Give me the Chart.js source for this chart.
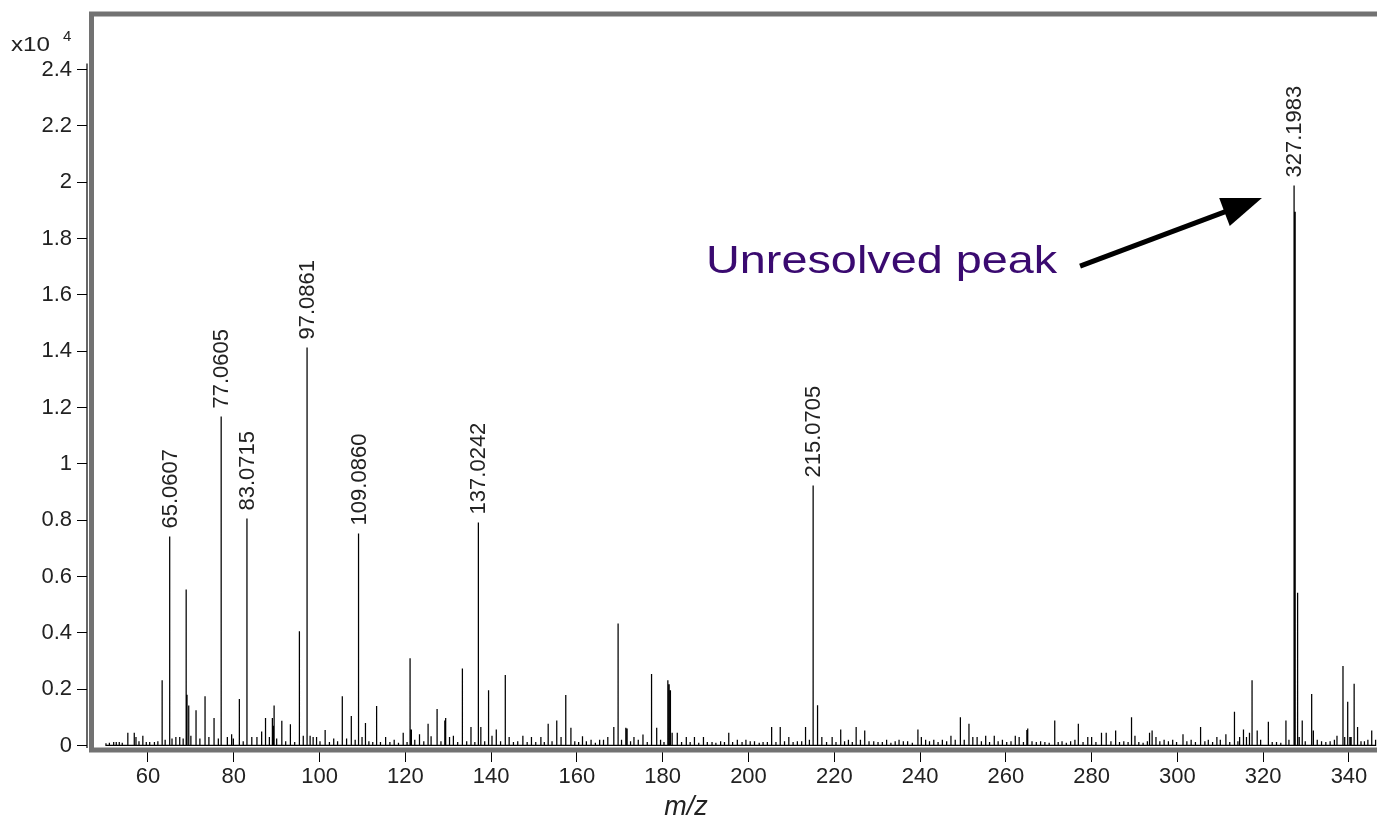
<!DOCTYPE html>
<html>
<head>
<meta charset="utf-8">
<script src="https://cdn.jsdelivr.net/npm/chart.js@4.4.1/dist/chart.umd.min.js"></script>
<style>
  html, body { margin: 0; padding: 0; background: #fff; }
  #wrap { width: 1377px; height: 820px; position: relative; }
</style>
</head>
<body>
<div id="wrap"><canvas id="spectrum"></canvas></div>
<script>
// Labelled peaks (m/z, intensity x10^4)
const labelMz = [65.0607, 77.0605, 83.0715, 97.0861, 109.0860, 137.0242, 215.0705, 327.1983];
const labelInt = [0.742, 1.168, 0.806, 1.413, 0.753, 0.792, 0.923, 1.988];

// Other peaks
const otherMz = [
  50.2, 51.0, 52.0, 52.6, 53.3, 54.0, 55.3, 56.8, 57.2, 57.9,
  58.8, 59.6, 60.4, 61.5, 62.3, 63.3, 64.0, 65.6, 66.5, 67.4,
  68.2, 68.9, 69.1, 69.5, 70.0, 71.2, 72.1, 73.3, 74.2, 75.4,
  76.4, 78.5, 79.5, 79.9, 81.3, 82.2, 84.2, 85.4, 86.5, 87.4,
  88.3, 89.0, 89.2, 89.4, 90.0, 91.2, 92.1, 93.2, 94.2, 95.3,
  96.2, 97.8, 98.5, 99.3, 100.1, 101.3, 102.3, 103.3, 104.2, 105.3,
  106.3, 107.4, 108.3, 109.9, 110.7, 111.5, 112.4, 113.3, 114.2, 115.4,
  116.4, 117.4, 118.4, 119.5, 120.4, 121.1, 121.4, 122.2, 123.3, 124.3,
  125.3, 126.0, 127.4, 128.3, 129.2, 129.4, 130.3, 131.2, 132.2, 133.3,
  134.3, 135.3, 136.2, 137.6, 138.5, 139.4, 140.2, 141.2, 142.2, 143.3,
  144.2, 145.2, 146.2, 147.4, 148.4, 149.4, 150.4, 151.6, 152.4, 153.3,
  154.2, 155.3, 156.3, 157.4, 158.6, 159.5, 160.4, 161.3, 162.2, 163.3,
  164.3, 165.3, 166.2, 167.2, 168.6, 169.6, 170.4, 171.4, 171.7, 172.5,
  173.3, 174.3, 175.4, 176.4, 177.4, 178.6, 179.5, 180.3, 181.2, 181.5,
  181.8, 182.2, 183.4, 184.4, 185.5, 186.4, 187.4, 188.4, 189.5, 190.4,
  191.5, 192.4, 193.5, 194.4, 195.4, 196.3, 197.4, 198.5, 199.4, 200.4,
  201.4, 202.5, 203.4, 204.4, 205.4, 206.4, 207.4, 208.4, 209.4, 210.4,
  211.4, 212.4, 213.3, 214.2, 216.1, 217.1, 218.2, 219.5, 220.4, 221.5,
  222.4, 223.3, 224.2, 225.1, 226.1, 227.1, 228.1, 229.2, 230.2, 231.2,
  232.2, 233.2, 234.2, 235.1, 236.1, 237.1, 238.2, 239.5, 240.3, 241.3,
  242.2, 243.2, 244.2, 245.2, 246.2, 247.2, 248.2, 249.4, 250.3, 251.4,
  252.3, 253.3, 254.3, 255.3, 256.2, 257.3, 258.2, 259.2, 260.2, 261.2,
  262.2, 263.1, 264.1, 264.9, 265.1, 266.1, 267.1, 268.1, 269.1, 270.1,
  271.4, 272.2, 273.1, 274.1, 275.1, 276.1, 276.9, 278.0, 279.1, 280.0,
  281.0, 282.3, 283.4, 284.5, 285.6, 286.5, 287.5, 288.5, 289.3, 290.1,
  291.0, 292.0, 293.0, 293.5, 294.1, 295.0, 295.9, 296.9, 297.9, 298.9,
  299.8, 301.3, 302.2, 303.2, 304.2, 305.4, 306.4, 307.2, 308.2, 309.2,
  310.0, 311.3, 312.2, 313.3, 314.1, 314.5, 315.4, 316.1, 316.8, 317.4,
  318.6, 319.4, 321.2, 322.1, 323.1, 324.1, 325.3, 326.0, 327.45, 327.9,
  328.1, 328.4, 329.1, 329.8, 331.3, 331.7, 332.6, 333.6, 334.6, 335.6,
  336.6, 337.2, 338.6, 339.0, 339.7, 340.2, 340.5, 341.2, 342.0, 342.8,
  343.6, 344.4, 345.3, 346.2
];
const otherInt = [
  .008, .01, .012, .012, .012, .01, .045, .045, .03, .015,
  .035, .012, .012, .012, .015, .232, .02, .025, .03, .03,
  .025, .554, .18, .142, .035, .125, .025, .175, .03, .098,
  .025, .03, .04, .025, .165, .015, .03, .03, .05, .098,
  .03, .098, .07, .142, .025, .088, .015, .075, .012, .406,
  .035, .035, .03, .03, .015, .055, .012, .025, .015, .175,
  .025, .105, .02, .03, .08, .015, .012, .14, .012, .03,
  .012, .02, .01, .045, .012, .31, .057, .02, .04, .015,
  .077, .033, .13, .015, .089, .098, .03, .035, .012, .273,
  .015, .066, .012, .066, .015, .196, .035, .057, .015, .25,
  .03, .012, .015, .035, .012, .03, .012, .03, .012, .077,
  .015, .089, .03, .179, .063, .015, .012, .033, .015, .02,
  .01, .02, .02, .03, .066, .433, .02, .063, .06, .015,
  .03, .02, .039, .012, .254, .063, .02, .012, .232, .217,
  .196, .045, .045, .012, .03, .012, .03, .01, .03, .012,
  .012, .01, .015, .012, .045, .012, .02, .012, .02, .015,
  .015, .01, .012, .012, .066, .012, .066, .015, .03, .012,
  .015, .015, .066, .02, .143, .03, .012, .03, .012, .057,
  .015, .02, .012, .066, .02, .053, .015, .015, .012, .012,
  .02, .01, .015, .02, .015, .015, .01, .057, .03, .02,
  .015, .02, .012, .02, .015, .035, .02, .1, .02, .077,
  .03, .03, .015, .035, .012, .035, .015, .02, .012, .015,
  .035, .03, .012, .055, .06, .015, .012, .015, .012, .01,
  .089, .012, .015, .01, .015, .02, .077, .012, .03, .03,
  .012, .045, .045, .015, .053, .012, .015, .012, .1, .035,
  .012, .01, .015, .045, .053, .03, .015, .02, .015, .02,
  .012, .04, .015, .02, .012, .066, .015, .02, .012, .03,
  .02, .04, .012, .12, .015, .03, .057, .03, .045, .232,
  .053, .02, .084, .012, .012, .01, .089, .02, 1.895, .542,
  .06, .03, .089, .015, .183, .053, .02, .015, .012, .015,
  .02, .035, .282, .03, .155, .03, .03, .219, .066, .015,
  .015, .02, .053, .02
];

const xTicks = [60, 80, 100, 120, 140, 160, 180, 200, 220, 240, 260, 280, 300, 320, 340];
const yTicks = [0, 0.2, 0.4, 0.6, 0.8, 1, 1.2, 1.4, 1.6, 1.8, 2, 2.2, 2.4];

// Annotation anchor (data coordinates)
const noteText = 'Unresolved peak';
const notePos = { x: 190.1, y: 1.677 };
const arrowFrom = { x: 277.3, y: 1.702 };
const arrowTo = { x: 319.7, y: 1.944 };

Chart.defaults.font.family = 'Arial, "Liberation Sans", sans-serif';
Chart.defaults.color = '#222';

// Build stick spectrum: each peak rises from and returns to the baseline
const allPeaks = labelMz.map((m, i) => [m, labelInt[i]])
  .concat(otherMz.map((m, i) => [m, otherInt[i]]))
  .sort((a, b) => a[0] - b[0]);
const stickData = [];
allPeaks.forEach(([m, h]) => {
  stickData.push({ x: m, y: 0 }, { x: m, y: h }, { x: m, y: 0 });
});

const overlay = {
  id: 'overlay',
  afterDraw(chart) {
    const ctx = chart.ctx;
    const xs = chart.scales.x, ys = chart.scales.y;
    const area = chart.chartArea;

    // peak labels, rotated
    ctx.save();
    ctx.fillStyle = '#222';
    ctx.font = '22px Arial, "Liberation Sans", sans-serif';
    ctx.textAlign = 'left';
    ctx.textBaseline = 'middle';
    labelMz.forEach((m, i) => {
      const px = xs.getPixelForValue(m);
      const py = ys.getPixelForValue(labelInt[i]);
      ctx.save();
      ctx.translate(px + 1, py - 8);
      ctx.rotate(-Math.PI / 2);
      ctx.fillText(m.toFixed(4), 0, 0);
      ctx.restore();
    });
    ctx.restore();

    // annotation text
    ctx.save();
    ctx.fillStyle = '#3a0a70';
    ctx.font = '39px Arial, "Liberation Sans", sans-serif';
    ctx.textBaseline = 'alphabetic';
    const tx = xs.getPixelForValue(notePos.x), ty = ys.getPixelForValue(notePos.y);
    ctx.translate(tx, ty);
    ctx.scale(1.2, 1);
    ctx.fillText(noteText, 0, 0);
    ctx.restore();

    // arrow
    const ax0 = xs.getPixelForValue(arrowFrom.x), ay0 = ys.getPixelForValue(arrowFrom.y);
    const ax1 = xs.getPixelForValue(arrowTo.x), ay1 = ys.getPixelForValue(arrowTo.y);
    const ang = Math.atan2(ay1 - ay0, ax1 - ax0);
    const headLen = 40, headW = 15;
    const bx = ax1 - headLen * Math.cos(ang), by = ay1 - headLen * Math.sin(ang);
    ctx.save();
    ctx.strokeStyle = '#000';
    ctx.fillStyle = '#000';
    ctx.lineWidth = 5;
    ctx.beginPath();
    ctx.moveTo(ax0, ay0);
    ctx.lineTo(bx + 6 * Math.cos(ang), by + 6 * Math.sin(ang));
    ctx.stroke();
    ctx.beginPath();
    ctx.moveTo(ax1, ay1);
    ctx.lineTo(bx + headW * Math.sin(ang), by - headW * Math.cos(ang));
    ctx.lineTo(bx - headW * Math.sin(ang), by + headW * Math.cos(ang));
    ctx.closePath();
    ctx.fill();
    ctx.restore();

    // grey frame
    ctx.save();
    ctx.strokeStyle = '#727272';
    ctx.lineWidth = 5;
    ctx.strokeRect(area.left + 4.5, area.top, area.right + 40 - area.left, area.bottom + 2 - area.top);
    ctx.restore();

    // y axis line
    ctx.save();
    ctx.strokeStyle = '#000';
    ctx.lineWidth = 1.2;
    ctx.beginPath();
    ctx.moveTo(area.left, ys.getPixelForValue(2.4) - 6);
    ctx.lineTo(area.left, area.bottom);
    ctx.stroke();
    ctx.restore();

    // exponent and axis title
    ctx.save();
    ctx.fillStyle = '#222';
    ctx.textBaseline = 'alphabetic';
    ctx.font = '21px Arial, "Liberation Sans", sans-serif';
    ctx.save();
    ctx.translate(11, 51);
    ctx.scale(1.15, 1);
    ctx.fillText('x10', 0, 0);
    ctx.restore();
    ctx.font = '15px Arial, "Liberation Sans", sans-serif';
    ctx.fillText('4', 63, 41);
    ctx.font = 'italic 27px Arial, "Liberation Sans", sans-serif';
    ctx.textAlign = 'center';
    ctx.fillText('m/z', 686, 815);
    ctx.restore();
  }
};

new Chart(document.getElementById('spectrum'), {
  type: 'line',
  data: {
    datasets: [{
      data: stickData,
      borderColor: '#000',
      borderWidth: 1.25,
      pointRadius: 0,
      tension: 0,
      fill: false
    }]
  },
  options: {
    responsive: true,
    maintainAspectRatio: false,
    animation: false,
    layout: { padding: { top: 14, left: 0, right: 0, bottom: 0 } },
    plugins: {
      legend: { display: false },
      tooltip: { enabled: false }
    },
    scales: {
      x: {
        type: 'linear',
        min: 45.78,
        max: 346.53,
        afterBuildTicks: s => { s.ticks = xTicks.map(v => ({ value: v })); },
        afterFit: s => { s.height = 72; s.paddingLeft = 0; s.paddingRight = 0; },
        border: { display: false },
        grid: { drawOnChartArea: false, drawTicks: true, tickLength: 14, color: '#000', lineWidth: 1 },
        ticks: { font: { size: 22 }, color: '#222', padding: 2, maxRotation: 0, autoSkip: false }
      },
      y: {
        type: 'linear',
        min: -0.0089,
        max: 2.597,
        afterBuildTicks: s => { s.ticks = yTicks.map(v => ({ value: v })); },
        afterFit: s => { s.width = 87; s.paddingTop = 0; s.paddingBottom = 0; },
        border: { display: false },
        grid: { drawOnChartArea: false, drawTicks: true, tickLength: 10, color: '#000', lineWidth: 1 },
        ticks: {
          font: { size: 22 }, color: '#222', padding: 5, autoSkip: false,
          callback: v => String(+v.toFixed(1))
        }
      }
    }
  },
  plugins: [overlay]
});
</script>
</body>
</html>
